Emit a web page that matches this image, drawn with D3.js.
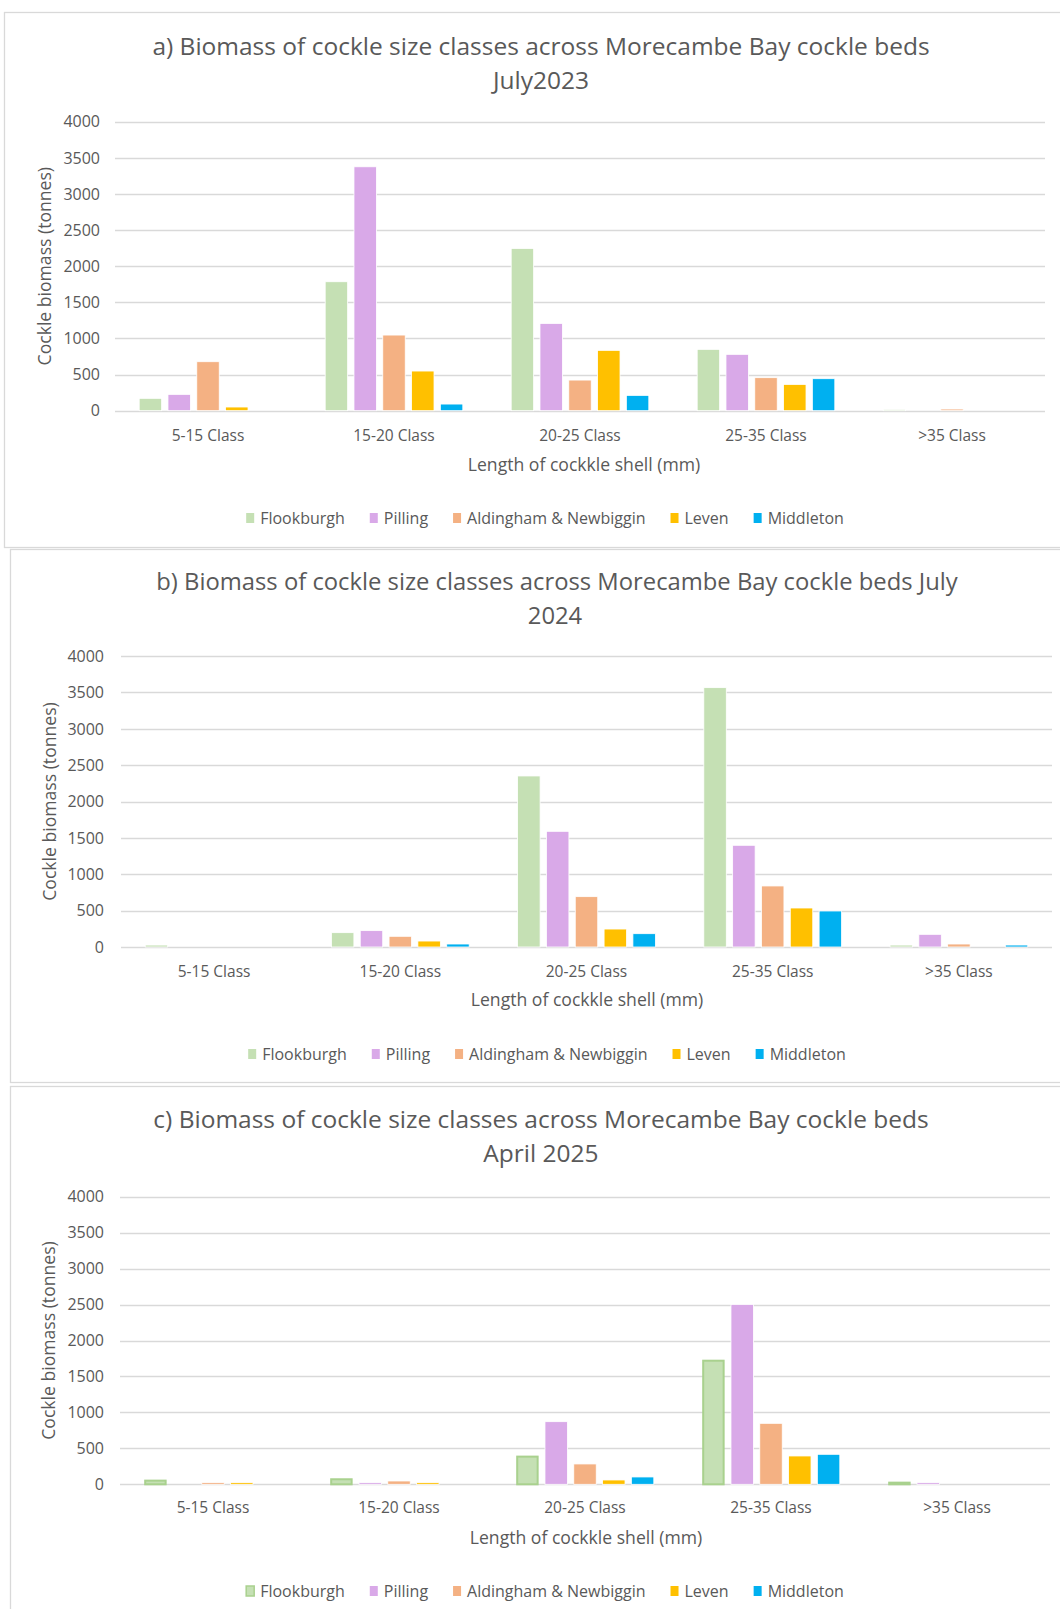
<!DOCTYPE html>
<html>
<head>
<meta charset="utf-8">
<script src="https://cdn.jsdelivr.net/npm/d3@7"></script>
<style>
  html, body { margin: 0; padding: 0; background: #fff; }
  svg { display: block; }
  text { font-family: "Open Sans", "Noto Sans", sans-serif; fill: #595959; }
</style>
</head>
<body>
<svg id="chart" width="1060" height="1609"></svg>
<script>
// ---------- data ----------
const categories = ["5-15 Class", "15-20 Class", "20-25 Class", "25-35 Class", ">35 Class"];
const sites = ["Flookburgh", "Pilling", "Aldingham & Newbiggin", "Leven", "Middleton"];
const siteColors = ["#C5E0B4", "#D9A9E8", "#F4B183", "#FFC000", "#00B0F0"];
const yTicks = [0, 500, 1000, 1500, 2000, 2500, 3000, 3500, 4000];

// a) July 2023
const flookburgh2023 = [171, 1785, 2246, 849, 18];
const pilling2023    = [226, 3376, 1208, 780, 0];
const aldingham2023  = [678, 1047, 424, 457, 23];
const leven2023      = [51, 549, 835, 364, 0];
const middleton2023  = [0, 92, 212, 443, 0];

// b) July 2024
const flookburgh2024 = [27, 197, 2351, 3565, 27];
const pilling2024    = [0, 225, 1590, 1398, 174];
const aldingham2024  = [0, 147, 692, 839, 41];
const leven2024      = [0, 82, 247, 536, 0];
const middleton2024  = [0, 41, 183, 495, 27];

// c) April 2025
const flookburgh2025 = [51, 70, 385, 1719, 23];
const pilling2025    = [0, 23, 871, 2502, 23];
const aldingham2025  = [23, 46, 283, 848, 0];
const leven2025      = [23, 23, 60, 394, 0];
const middleton2025  = [0, 0, 102, 417, 0];

const titleA = ["a) Biomass of cockle size classes across Morecambe Bay cockle beds", "July2023"];
const titleB = ["b) Biomass of cockle size classes across Morecambe Bay cockle beds July", "2024"];
const titleC = ["c) Biomass of cockle size classes across Morecambe Bay cockle beds", "April 2025"];
const yAxisTitle = "Cockle biomass (tonnes)";
const xAxisTitle = "Length of cockkle shell (mm)";

// ---------- layout ----------
const panels = [
  { series: [flookburgh2023, pilling2023, aldingham2023, leven2023, middleton2023], title: titleA,
    box: [4, 12, 1070, 547], titleX: [541, 541], titleY: [46, 80], titleSize: 24.5,
    plotL: 115, plotR: 1045, yTop: 121.7, yZero: 410.7, tickX: 100, yTitleX: 45,
    catY: 435, xTitleX: 584, xTitleY: 465, legendCX: 545, legendY: 518, flookOutline: false },
  { series: [flookburgh2024, pilling2024, aldingham2024, leven2024, middleton2024], title: titleB,
    box: [10, 549, 1070, 1082], titleX: [557, 555], titleY: [581, 615], titleSize: 23.8,
    plotL: 121, plotR: 1052, yTop: 656, yZero: 947, tickX: 104, yTitleX: 50,
    catY: 971, xTitleX: 587, xTitleY: 1000, legendCX: 547, legendY: 1054, flookOutline: false },
  { series: [flookburgh2025, pilling2025, aldingham2025, leven2025, middleton2025], title: titleC,
    box: [10, 1086, 1070, 1620], titleX: [541, 541], titleY: [1119, 1153], titleSize: 24.5,
    plotL: 120, plotR: 1050, yTop: 1196.7, yZero: 1484.3, tickX: 104, yTitleX: 49,
    catY: 1507, xTitleX: 586, xTitleY: 1538, legendCX: 545, legendY: 1591, flookOutline: true }
];

const svg = d3.select("#chart");
svg.append("rect").attr("width", 1060).attr("height", 1609).attr("fill", "#fff");

panels.forEach(p => {
  const g = svg.append("g");
  // panel border
  g.append("rect")
    .attr("x", p.box[0] + 0.5).attr("y", p.box[1] + 0.5)
    .attr("width", p.box[2] - p.box[0]).attr("height", p.box[3] - p.box[1])
    .attr("fill", "#fff").attr("stroke", "#D9D9D9").attr("stroke-width", 1.3);

  const y = d3.scaleLinear().domain([0, 4000]).range([p.yZero, p.yTop]);
  const x0 = d3.scaleBand().domain(categories).range([p.plotL, p.plotR]).padding(0);
  const x1 = d3.scaleBand().domain(sites).range([0, x0.bandwidth()])
    .paddingInner(0.22).paddingOuter(0.84);

  // title
  p.title.forEach((t, i) => {
    g.append("text").attr("x", p.titleX[i]).attr("y", p.titleY[i]).attr("dy", "0.36em")
      .attr("text-anchor", "middle").style("font-size", p.titleSize + "px").text(t);
  });

  // gridlines
  g.selectAll(".grid").data(yTicks).enter().append("line")
    .attr("x1", p.plotL).attr("x2", p.plotR)
    .attr("y1", d => Math.round(y(d)) + 0.5).attr("y2", d => Math.round(y(d)) + 0.5)
    .attr("stroke", "#D9D9D9").attr("stroke-width", 1.4);

  // y tick labels
  g.selectAll(".ytick").data(yTicks).enter().append("text")
    .attr("x", p.tickX).attr("y", d => y(d)).attr("dy", "0.36em")
    .attr("text-anchor", "end").style("font-size", "16px").text(d => d);

  // y axis title
  g.append("text")
    .attr("transform", `translate(${p.yTitleX},${(p.yTop + p.yZero) / 2}) rotate(-90)`)
    .attr("dy", "0.36em").attr("text-anchor", "middle").style("font-size", "17.6px").text(yAxisTitle);

  // bars
  sites.forEach((s, si) => {
    const vals = p.series[si];
    const outline = (si === 0 && p.flookOutline);
    g.selectAll(".bar" + si).data(categories).enter().filter((c, ci) => vals[ci] > 0)
      .append("rect")
      .attr("x", c => x0(c) + x1(s) + (outline ? 1 : 0))
      .attr("y", c => y(vals[categories.indexOf(c)]))
      .attr("width", x1.bandwidth() - (outline ? 2 : 0))
      .attr("height", c => p.yZero - y(vals[categories.indexOf(c)]))
      .attr("fill", siteColors[si])
      .attr("stroke", outline ? "#A9D18E" : "#fff")
      .attr("stroke-width", outline ? 2 : 0.8);
  });

  // category labels
  g.selectAll(".cat").data(categories).enter().append("text")
    .attr("x", c => x0(c) + x0.bandwidth() / 2).attr("y", p.catY).attr("dy", "0.36em")
    .attr("text-anchor", "middle").style("font-size", "15.5px").text(c => c);

  // x axis title
  g.append("text").attr("x", p.xTitleX).attr("y", p.xTitleY).attr("dy", "0.36em")
    .attr("text-anchor", "middle").style("font-size", "17.6px").text(xAxisTitle);

  // legend
  const lg = g.append("g");
  let cx = 0;
  sites.forEach((s, si) => {
    const it = lg.append("g");
    it.append("rect").attr("x", 0).attr("y", -5).attr("width", 8).attr("height", 10)
      .attr("fill", siteColors[si])
      .attr("stroke", (si === 0 && p.flookOutline) ? "#A9D18E" : "none")
      .attr("stroke-width", 1.5);
    const t = it.append("text").attr("x", 14).attr("dy", "0.36em").style("font-size", "16px").text(s);
    const w = 14 + t.node().getComputedTextLength();
    it.attr("transform", `translate(${cx},${p.legendY})`);
    cx += w + 25;
  });
  const total = cx - 25;
  lg.attr("transform", `translate(${p.legendCX - total / 2},0)`);
});
</script>
</body>
</html>
